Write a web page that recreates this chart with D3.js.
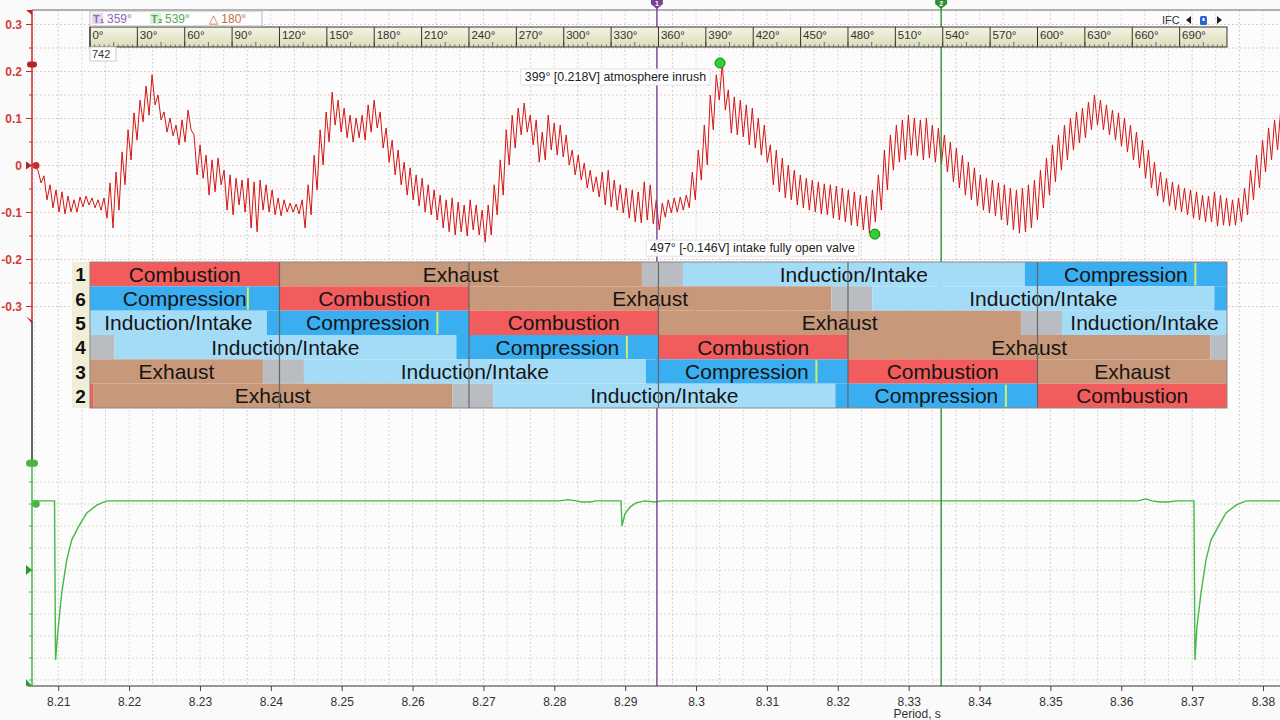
<!DOCTYPE html>
<html>
<head>
<meta charset="utf-8">
<script src="https://cdn.jsdelivr.net/npm/d3@7"></script>
<style>
  body { margin: 0; background: #fafafa; }
  svg { display: block; font-family: "Liberation Sans", Arial, sans-serif; }
</style>
</head>
<body>
<svg id="chart" width="1280" height="720"></svg>
<script>
// period axis (s) and red channel ticks (V)
const periodTicks = [8.21, 8.22, 8.23, 8.24, 8.25, 8.26, 8.27, 8.28, 8.29, 8.3, 8.31, 8.32, 8.33, 8.34, 8.35, 8.36, 8.37, 8.38]
const redTicks = [0.3, 0.2, 0.1, 0, -0.1, -0.2, -0.3]
const degreeTicks = [0, 30, 60, 90, 120, 150, 180, 210, 240, 270, 300, 330, 360, 390, 420, 450, 480, 510, 540, 570, 600, 630, 660, 690]

// pressure trace, min/max per sample bin (V), bins start at 8.2063 s
const sampleStart = 8.2063
const sampleStep = 0.000847
const redHigh = [
  0.005, -0.010, -0.022, -0.041, -0.052, -0.056, -0.065, -0.073, -0.067, -0.065,
  -0.069, -0.073, -0.069, -0.037, -0.014, 0.029, 0.076, 0.112, 0.139, 0.169,
  0.193, 0.150, 0.114, 0.101, 0.086, 0.097, 0.118, 0.065, 0.044, 0.022,
  0.012, 0.016, -0.010, -0.020, -0.027, -0.031, -0.027, -0.035, -0.031, -0.041,
  -0.052, -0.069, -0.073, -0.080, -0.082, -0.073, -0.041, 0.022, 0.076, 0.114,
  0.156, 0.139, 0.122, 0.107, 0.101, 0.107, 0.129, 0.139, 0.114, 0.080,
  0.054, 0.033, 0.007, -0.005, -0.020, -0.027, -0.041, -0.052, -0.063, -0.073,
  -0.069, -0.078, -0.084, -0.073, -0.084, -0.095, -0.084, -0.041, 0.012, 0.076,
  0.107, 0.122, 0.133, 0.107, 0.097, 0.071, 0.107, 0.090, 0.086, 0.065,
  0.033, 0.022, 0.005, -0.010, -0.024, -0.014, -0.010, -0.031, -0.041, -0.048,
  -0.052, -0.056, -0.035, -0.041, -0.073, -0.080, -0.073, -0.069, -0.067, -0.063,
  -0.014, 0.033, 0.086, 0.150, 0.193, 0.218, 0.161, 0.146, 0.139, 0.129,
  0.122, 0.101, 0.086, 0.044, 0.033, 0.016, 0.001, -0.010, -0.020, -0.027,
  -0.031, -0.035, -0.039, -0.041, -0.044, -0.048, -0.052, -0.056, -0.063, -0.065,
  -0.052, -0.020, 0.033, 0.065, 0.086, 0.097, 0.107, 0.101, 0.097, 0.101,
  0.086, 0.080, 0.065, 0.050, 0.037, 0.022, 0.007, -0.005, -0.020, -0.027,
  -0.031, -0.037, -0.041, -0.048, -0.052, -0.048, -0.041, -0.031, -0.010, 0.016,
  0.044, 0.065, 0.086, 0.101, 0.114, 0.122, 0.135, 0.150, 0.139, 0.129,
  0.118, 0.112, 0.101, 0.086, 0.071, 0.054, 0.033, 0.007, -0.014, -0.027,
  -0.035, -0.041, -0.048, -0.052, -0.056, -0.063, -0.065, -0.056, -0.063, -0.069,
  -0.073, -0.069, -0.048, -0.010, 0.022, 0.054, 0.080, 0.097, 0.114
]
const redLow = [
  -0.005, -0.037, -0.073, -0.090, -0.099, -0.103, -0.099, -0.099, -0.088, -0.084,
  -0.090, -0.095, -0.112, -0.133, -0.095, -0.041, 0.012, 0.054, 0.093, 0.107,
  0.129, 0.097, 0.071, 0.063, 0.044, 0.050, 0.076, -0.020, -0.027, -0.063,
  -0.056, -0.041, -0.095, -0.105, -0.084, -0.099, -0.133, -0.141, -0.095, -0.099,
  -0.105, -0.107, -0.099, -0.099, -0.103, -0.133, -0.105, -0.052, 0.001, 0.050,
  0.086, 0.071, 0.059, 0.050, 0.059, 0.054, 0.071, 0.080, 0.037, 0.007,
  -0.020, -0.041, -0.063, -0.073, -0.086, -0.099, -0.105, -0.116, -0.133, -0.141,
  -0.148, -0.141, -0.150, -0.137, -0.148, -0.163, -0.148, -0.105, -0.063, 0.001,
  0.037, 0.065, 0.071, 0.044, 0.007, 0.012, 0.033, 0.022, 0.018, 0.001,
  -0.020, -0.031, -0.048, -0.056, -0.067, -0.084, -0.088, -0.095, -0.101, -0.112,
  -0.120, -0.122, -0.116, -0.124, -0.137, -0.110, -0.101, -0.099, -0.095, -0.090,
  -0.073, -0.031, 0.001, 0.076, 0.139, 0.118, 0.069, 0.065, 0.061, 0.044,
  0.037, 0.022, 0.007, -0.041, -0.056, -0.069, -0.073, -0.084, -0.090, -0.095,
  -0.099, -0.103, -0.105, -0.112, -0.116, -0.120, -0.127, -0.129, -0.137, -0.144,
  -0.120, -0.095, -0.052, -0.010, 0.007, 0.012, 0.022, 0.020, 0.012, 0.016,
  0.007, 0.001, -0.014, -0.035, -0.048, -0.063, -0.073, -0.086, -0.095, -0.101,
  -0.107, -0.116, -0.127, -0.137, -0.144, -0.141, -0.133, -0.116, -0.090, -0.063,
  -0.035, -0.010, 0.012, 0.033, 0.048, 0.059, 0.076, 0.086, 0.076, 0.065,
  0.054, 0.041, 0.029, 0.012, -0.005, -0.027, -0.048, -0.065, -0.078, -0.086,
  -0.095, -0.099, -0.105, -0.112, -0.116, -0.120, -0.120, -0.129, -0.127, -0.129,
  -0.127, -0.120, -0.105, -0.073, -0.048, -0.014, 0.012, 0.033, 0.050
]

// ignition (green) trace
const greenTime = [
  8.2063, 8.20948, 8.20962, 8.21001, 8.21049, 8.2112, 8.2119, 8.21283, 8.21402, 8.21543, 8.21684,
  8.2808, 8.28193, 8.28306, 8.28391, 8.28504, 8.28588, 8.28941, 8.28955, 8.28997, 8.29068, 8.29153, 8.2928, 8.29421, 8.2952,
  8.36236, 8.36349, 8.36433, 8.36546, 8.36659, 8.36772, 8.37026, 8.3704, 8.37068, 8.37125, 8.37195, 8.37266, 8.37365, 8.37478, 8.37619, 8.3776, 8.3824
]
const greenVolt = [
  0.14, 0.14, -7.09, -5.59, -4.05, -2.55, -1.64, -1.05, -0.41, -0.05, 0.14,
  0.14, 0.2, 0.14, 0.09, 0.09, 0.14, 0.14, -1.0, -0.45, -0.14, 0.05, 0.14, 0.09, 0.14,
  0.14, 0.23, 0.14, 0.09, 0.09, 0.14, 0.14, -7.09, -5.59, -4.05, -2.55, -1.64, -1.05, -0.41, -0.05, 0.14, 0.14
]

// cursors and annotations (crank degrees)
const cursorDeg = [359, 539]
const cursorColor = ['#7b3f91', '#2f8f2f']
const noteDeg = [399, 497]
const noteVolt = [0.218, -0.146]
const noteText = ['399° [0.218V] atmosphere inrush', '497° [-0.146V] intake fully open valve']
const rpm = 742

// firing-order table: [start°, end°, phase]
const cylinders = ['1', '6', '5', '4', '3', '2']
const cyl1 = [[0, 120, 'Combustion'], [120, 349.5, 'Exhaust'], [349.5, 375.5, 'Overlap'], [375.5, 592, 'Intake'], [592, 720, 'Compression']]
const cyl6 = [[0, 120, 'Compression'], [120, 240, 'Combustion'], [240, 469.5, 'Exhaust'], [469.5, 495.5, 'Overlap'], [495.5, 712, 'Intake'], [712, 720, 'Compression']]
const cyl5 = [[0, 112, 'Intake'], [112, 240, 'Compression'], [240, 360, 'Combustion'], [360, 589.5, 'Exhaust'], [589.5, 615.5, 'Overlap'], [615.5, 720, 'Intake']]
const cyl4 = [[0, 15.5, 'Overlap'], [15.5, 232, 'Intake'], [232, 360, 'Compression'], [360, 480, 'Combustion'], [480, 709.5, 'Exhaust'], [709.5, 720, 'Overlap']]
const cyl3 = [[0, 109.5, 'Exhaust'], [109.5, 135.5, 'Overlap'], [135.5, 352, 'Intake'], [352, 480, 'Compression'], [480, 600, 'Combustion'], [600, 720, 'Exhaust']]
const cyl2 = [[0, 2, 'Combustion'], [2, 229.5, 'Exhaust'], [229.5, 255.5, 'Overlap'], [255.5, 472, 'Intake'], [472, 600, 'Compression'], [600, 720, 'Combustion']]
const cylSegments = [cyl1, cyl6, cyl5, cyl4, cyl3, cyl2]
const sparkDeg = [700, 100, 220, 340, 460, 580]
const tdcDeg = [120, 240, 360, 480, 600]

const phaseColor = {
  Combustion: '#f25c5c', Exhaust: '#c8987b', Overlap: '#b9bdc1', Intake: '#a4dcf8', Compression: '#39aef0'
}
const phaseLabel = { Combustion: 'Combustion', Exhaust: 'Exhaust', Intake: 'Induction/Intake', Compression: 'Compression' }

const svg = d3.select('#chart')
const plotLeft = 32, plotRight = 1280, plotTop = 10, plotBottom = 686

const x = d3.scaleLinear().domain([8.2063, 8.3824]).range([plotLeft, plotRight])
const yRed = d3.scaleLinear().domain([-0.3, 0.3]).range([306.5, 24.5])
const yGreen = d3.scaleLinear().domain([-8, 2]).range([680, 460])
const degToTime = d3.scaleLinear().domain([0, 720]).range([8.21448, 8.37492])
const xDeg = (d) => x(degToTime(d))

svg.append('rect').attr('width', 1280).attr('height', 720).attr('fill', '#fafafa')
svg.append('rect').attr('x', plotLeft).attr('y', plotTop)
  .attr('width', plotRight - plotLeft).attr('height', plotBottom - plotTop).attr('fill', '#fcfcfc')

const defs = svg.append('defs')
defs.append('clipPath').attr('id', 'plotClip').append('rect')
  .attr('x', plotLeft).attr('y', plotTop).attr('width', plotRight - plotLeft).attr('height', plotBottom - plotTop)
const grad = defs.append('linearGradient').attr('id', 'rulerGrad').attr('x1', 0).attr('y1', 0).attr('x2', 0).attr('y2', 1)
grad.append('stop').attr('offset', '0%').attr('stop-color', '#f4f4e2')
grad.append('stop').attr('offset', '100%').attr('stop-color', '#dcdcbc')

// grid
const minorTimes = d3.range(-1, 53).map((k) => 8.21 + k * 0.01 / 3).filter((t) => x(t) > plotLeft + 1 && x(t) < plotRight)
const grid = svg.append('g')
grid.selectAll('line.v').data(minorTimes).enter().append('line')
  .attr('x1', (d) => x(d)).attr('x2', (d) => x(d))
  .attr('y1', plotTop).attr('y2', plotBottom)
  .attr('stroke', (d, i) => i % 2 ? '#c4c4c4' : '#d2d2d2').attr('stroke-dasharray', '1.5,2.5')
grid.selectAll('line.r').data(d3.range(-6, 7).map((k) => k * 0.05)).enter().append('line')
  .attr('x1', plotLeft).attr('x2', plotRight)
  .attr('y1', (d) => yRed(d)).attr('y2', (d) => yRed(d))
  .attr('stroke', '#e8b4b4').attr('stroke-dasharray', '1.5,2.5')
grid.selectAll('line.g').data(d3.range(-8, 2)).enter().append('line')
  .attr('x1', plotLeft).attr('x2', plotRight)
  .attr('y1', (d) => yGreen(d)).attr('y2', (d) => yGreen(d))
  .attr('stroke', '#bcd6bc').attr('stroke-dasharray', '1.5,2.5')

svg.append('line').attr('x1', plotLeft).attr('x2', plotRight).attr('y1', plotTop).attr('y2', plotTop)
  .attr('stroke', '#666')

// traces: max of each bin at its start, min at its middle (peak-detect style)
const traces = svg.append('g').attr('clip-path', 'url(#plotClip)')
const redPoints = []
redHigh.forEach((h, i) => {
  const t = sampleStart + i * sampleStep
  redPoints.push([t, h], [t + sampleStep / 2, redLow[i]])
})
traces.append('path')
  .datum(redPoints)
  .attr('fill', 'none').attr('stroke', '#d41414').attr('stroke-width', 1)
  .attr('stroke-linejoin', 'round')
  .attr('d', d3.line().x((d) => x(d[0])).y((d) => yRed(d[1])))

traces.append('path')
  .datum(greenTime.map((t, i) => [t, greenVolt[i]]))
  .attr('fill', 'none').attr('stroke', '#45b845').attr('stroke-width', 1.4)
  .attr('d', d3.line().x((d) => x(d[0])).y((d) => yGreen(d[1])))

// cursors
cursorDeg.forEach((d, i) => {
  const cx = xDeg(d)
  svg.append('line').attr('x1', cx).attr('x2', cx).attr('y1', 0).attr('y2', plotBottom)
    .attr('stroke', cursorColor[i]).attr('stroke-width', 1.4)
  svg.append('path')
    .attr('d', `M${cx - 6},0 L${cx + 6},0 L${cx + 6},4 L${cx},9 L${cx - 6},4 Z`)
    .attr('fill', cursorColor[i])
  svg.append('text').attr('x', cx).attr('y', 6).attr('text-anchor', 'middle')
    .attr('font-size', 7).attr('font-weight', 'bold').attr('fill', '#fff').text(i + 1)
})

// x axis
const xAxisG = svg.append('g').attr('transform', `translate(0,${plotBottom})`)
xAxisG.call(d3.axisBottom(x).tickValues(minorTimes).tickSize(4).tickFormat(''))
xAxisG.call(d3.axisBottom(x).tickValues(periodTicks).tickSize(5).tickPadding(6)
  .tickFormat((d) => String(+d.toFixed(2))))
xAxisG.selectAll('.domain').remove()
xAxisG.selectAll('line').attr('stroke', '#444')
xAxisG.selectAll('text').attr('font-size', 12).attr('fill', '#333')
  .attr('font-family', '"Liberation Sans", Arial, sans-serif')
svg.append('line').attr('x1', plotLeft - 4).attr('x2', plotRight).attr('y1', plotBottom).attr('y2', plotBottom)
  .attr('stroke', '#333')
svg.append('text').attr('x', x(8.3312)).attr('y', 718).attr('text-anchor', 'middle')
  .attr('font-size', 12).attr('fill', '#333').text('Period, s')

// left axis
const axisX = plotLeft
svg.append('line').attr('x1', axisX).attr('x2', axisX).attr('y1', plotTop).attr('y2', yRed(-0.33))
  .attr('stroke', '#cc2b2b').attr('stroke-width', 1.5)
svg.append('line').attr('x1', axisX).attr('x2', axisX).attr('y1', yRed(-0.33)).attr('y2', yGreen(2))
  .attr('stroke', '#333').attr('stroke-width', 1.5)
svg.append('line').attr('x1', axisX).attr('x2', axisX).attr('y1', yGreen(2)).attr('y2', plotBottom)
  .attr('stroke', '#45b845').attr('stroke-width', 1.5)

const redAxis = svg.append('g')
redAxis.selectAll('line.maj').data(redTicks).enter().append('line')
  .attr('x1', axisX - 6).attr('x2', axisX).attr('y1', (d) => yRed(d)).attr('y2', (d) => yRed(d))
  .attr('stroke', '#cc2b2b')
redAxis.selectAll('line.min').data(redTicks.slice(1).map((d) => d + 0.05)).enter().append('line')
  .attr('x1', axisX - 3).attr('x2', axisX).attr('y1', (d) => yRed(d)).attr('y2', (d) => yRed(d))
  .attr('stroke', '#cc2b2b')
redAxis.selectAll('text').data(redTicks).enter().append('text')
  .attr('x', 22).attr('y', (d) => yRed(d) + 4.5).attr('text-anchor', 'end')
  .attr('font-size', 12).attr('font-weight', 'bold').attr('fill', '#d23a3a')
  .text((d) => String(d))

svg.selectAll('line.gtick').data(d3.range(-8, 2)).enter().append('line')
  .attr('x1', axisX - 3).attr('x2', axisX).attr('y1', (d) => yGreen(d)).attr('y2', (d) => yGreen(d))
  .attr('stroke', '#45b845')

// channel markers on the left axis
svg.append('path').attr('d', `M${axisX - 6},${plotTop} L${axisX},${plotTop} L${axisX},${plotTop + 5} Z`).attr('fill', '#b82222')
svg.append('rect').attr('x', axisX - 5).attr('y', yRed(0.215) - 3).attr('width', 10).attr('height', 6).attr('rx', 3).attr('fill', '#b82222')
svg.append('path').attr('d', `M${axisX - 6},${yRed(0) - 4} L${axisX},${yRed(0)} L${axisX - 6},${yRed(0) + 4} Z`).attr('fill', '#b82222')
svg.append('circle').attr('cx', axisX + 4).attr('cy', yRed(0)).attr('r', 3.5).attr('fill', '#c43030')
svg.append('path').attr('d', `M${axisX - 6},${yRed(-0.33) - 4} L${axisX},${yRed(-0.33)} L${axisX},${yRed(-0.33) + 3} Z`).attr('fill', '#b82222')
svg.append('rect').attr('x', axisX - 6).attr('y', yGreen(1.85) - 3.5).attr('width', 12).attr('height', 7).attr('rx', 3.5).attr('fill', '#45b845')
svg.append('circle').attr('cx', axisX + 4).attr('cy', yGreen(0)).attr('r', 3.8).attr('fill', '#45b845')
svg.append('path').attr('d', `M${axisX - 6},${yGreen(-3) - 5} L${axisX},${yGreen(-3)} L${axisX - 6},${yGreen(-3) + 5} Z`).attr('fill', '#2e9a2e')
svg.append('path').attr('d', `M${axisX - 6},${plotBottom - 7} L${axisX},${plotBottom} L${axisX - 6},${plotBottom} Z`).attr('fill', '#2e9a2e')

// degree ruler
const ruler = svg.append('g')
const rx0 = xDeg(0), rx1 = xDeg(720)
ruler.append('rect').attr('x', rx0).attr('y', 27).attr('width', rx1 - rx0).attr('height', 20)
  .attr('fill', 'url(#rulerGrad)').attr('stroke', '#333')
ruler.selectAll('line.st').data(d3.range(0, 720, 3)).enter().append('line')
  .attr('x1', (d) => xDeg(d)).attr('x2', (d) => xDeg(d))
  .attr('y1', 47).attr('y2', (d) => d % 15 === 0 ? 42 : 44.5)
  .attr('stroke', '#555').attr('stroke-width', 0.8)
ruler.selectAll('line.cell').data(degreeTicks).enter().append('line')
  .attr('x1', (d) => xDeg(d)).attr('x2', (d) => xDeg(d)).attr('y1', 27).attr('y2', 47)
  .attr('stroke', '#333')
ruler.selectAll('text').data(degreeTicks).enter().append('text')
  .attr('x', (d) => xDeg(d) + 2.5).attr('y', 39)
  .attr('font-size', 11.5).attr('fill', '#333').text((d) => d + '°')

// cursor readout box
const info = svg.append('g')
info.append('rect').attr('x', rx0).attr('y', 11).attr('width', 172).attr('height', 15)
  .attr('fill', '#fdfdfd').attr('stroke', '#bbb')
info.append('rect').attr('x', rx0 + 2).attr('y', 13).attr('width', 11).attr('height', 11).attr('fill', '#e4d8ef')
info.append('text').attr('x', rx0 + 3).attr('y', 23).attr('font-size', 11).attr('font-weight', 'bold').attr('fill', '#9366ad').text('T₁')
info.append('text').attr('x', rx0 + 17).attr('y', 23).attr('font-size', 12).attr('fill', '#9366ad').text(cursorDeg[0] + '°')
info.append('rect').attr('x', rx0 + 60).attr('y', 13).attr('width', 11).attr('height', 11).attr('fill', '#dcefd8')
info.append('text').attr('x', rx0 + 61).attr('y', 23).attr('font-size', 11).attr('font-weight', 'bold').attr('fill', '#5aa65a').text('T₂')
info.append('text').attr('x', rx0 + 75).attr('y', 23).attr('font-size', 12).attr('fill', '#5aa65a').text(cursorDeg[1] + '°')
info.append('text').attr('x', rx0 + 119).attr('y', 23).attr('font-size', 12).attr('fill', '#c4703c')
  .text('△ ' + (cursorDeg[1] - cursorDeg[0]) + '°')

svg.append('rect').attr('x', rx0).attr('y', 47).attr('width', 26).attr('height', 14)
  .attr('fill', '#fff').attr('stroke', '#ccc')
svg.append('text').attr('x', rx0 + 2).attr('y', 58).attr('font-size', 11).attr('fill', '#333').text(rpm)

// IFC controls
svg.append('text').attr('x', 1162).attr('y', 24).attr('font-size', 11).attr('fill', '#333').text('IFC')
svg.append('path').attr('d', 'M1186,20 L1191,16 L1191,24 Z').attr('fill', '#222')
svg.append('rect').attr('x', 1200).attr('y', 16).attr('width', 7).attr('height', 9).attr('rx', 1.5).attr('fill', '#2a66c8')
svg.append('rect').attr('x', 1202.5).attr('y', 18).attr('width', 2).attr('height', 3).attr('fill', '#fff')
svg.append('path').attr('d', 'M1217,16 L1222,20 L1217,24 Z').attr('fill', '#222')

// firing order table
const band = d3.scaleBand().domain(cylinders).range([262, 408])
const table = svg.append('g')
table.append('rect').attr('x', 72).attr('y', 262).attr('width', rx0 - 72).attr('height', 146).attr('fill', '#f1eed8')
cylSegments.forEach((segs, r) => {
  const cyl = cylinders[r]
  const row = table.append('g')
  row.selectAll('rect').data(segs).enter().append('rect')
    .attr('x', (d) => xDeg(d[0])).attr('y', band(cyl))
    .attr('width', (d) => xDeg(d[1]) - xDeg(d[0])).attr('height', band.bandwidth())
    .attr('fill', (d) => phaseColor[d[2]])
  row.append('line')
    .attr('x1', xDeg(sparkDeg[r])).attr('x2', xDeg(sparkDeg[r]))
    .attr('y1', band(cyl) + 1).attr('y2', band(cyl) + band.bandwidth() - 1)
    .attr('stroke', '#d4ec6c').attr('stroke-width', 2)
  row.selectAll('text').data(segs.filter((d) => d[1] - d[0] > 60)).enter().append('text')
    .attr('x', (d) => (xDeg(d[0]) + xDeg(d[1])) / 2)
    .attr('y', band(cyl) + band.bandwidth() / 2 + 7.5)
    .attr('text-anchor', 'middle').attr('font-size', 21).attr('fill', '#151515')
    .text((d) => phaseLabel[d[2]])
  row.append('text').attr('x', 80.5).attr('y', band(cyl) + band.bandwidth() / 2 + 7)
    .attr('text-anchor', 'middle').attr('font-size', 19).attr('font-weight', 'bold').attr('fill', '#111')
    .text(cyl)
})
table.selectAll('line.tdc').data(tdcDeg).enter().append('line')
  .attr('x1', (d) => xDeg(d)).attr('x2', (d) => xDeg(d)).attr('y1', 262).attr('y2', 408)
  .attr('stroke', '#666').attr('stroke-width', 1.2)
table.append('rect').attr('x', rx0).attr('y', 262).attr('width', rx1 - rx0).attr('height', 146)
  .attr('fill', 'none').attr('stroke', '#888')

// annotations
const notes = svg.append('g')
const noteGap = [14, 20]
noteDeg.forEach((d, i) => {
  const mx = xDeg(d), my = yRed(noteVolt[i])
  const g = notes.append('g')
  const label = g.append('text').attr('x', mx - noteGap[i]).attr('y', my + 18).attr('text-anchor', 'end')
    .attr('font-size', 12.4).attr('fill', '#222').text(noteText[i])
  const bb = label.node().getBBox()
  g.insert('rect', 'text').attr('x', bb.x - 4).attr('y', bb.y - 1).attr('width', bb.width + 8).attr('height', bb.height + 2)
    .attr('fill', '#fff').attr('fill-opacity', 0.92).attr('stroke', '#e2e2e2')
  g.append('circle').attr('cx', mx).attr('cy', my).attr('r', 5)
    .attr('fill', '#2fd02f').attr('stroke', '#177a17').attr('stroke-width', 1)
})
</script>
</body>
</html>
